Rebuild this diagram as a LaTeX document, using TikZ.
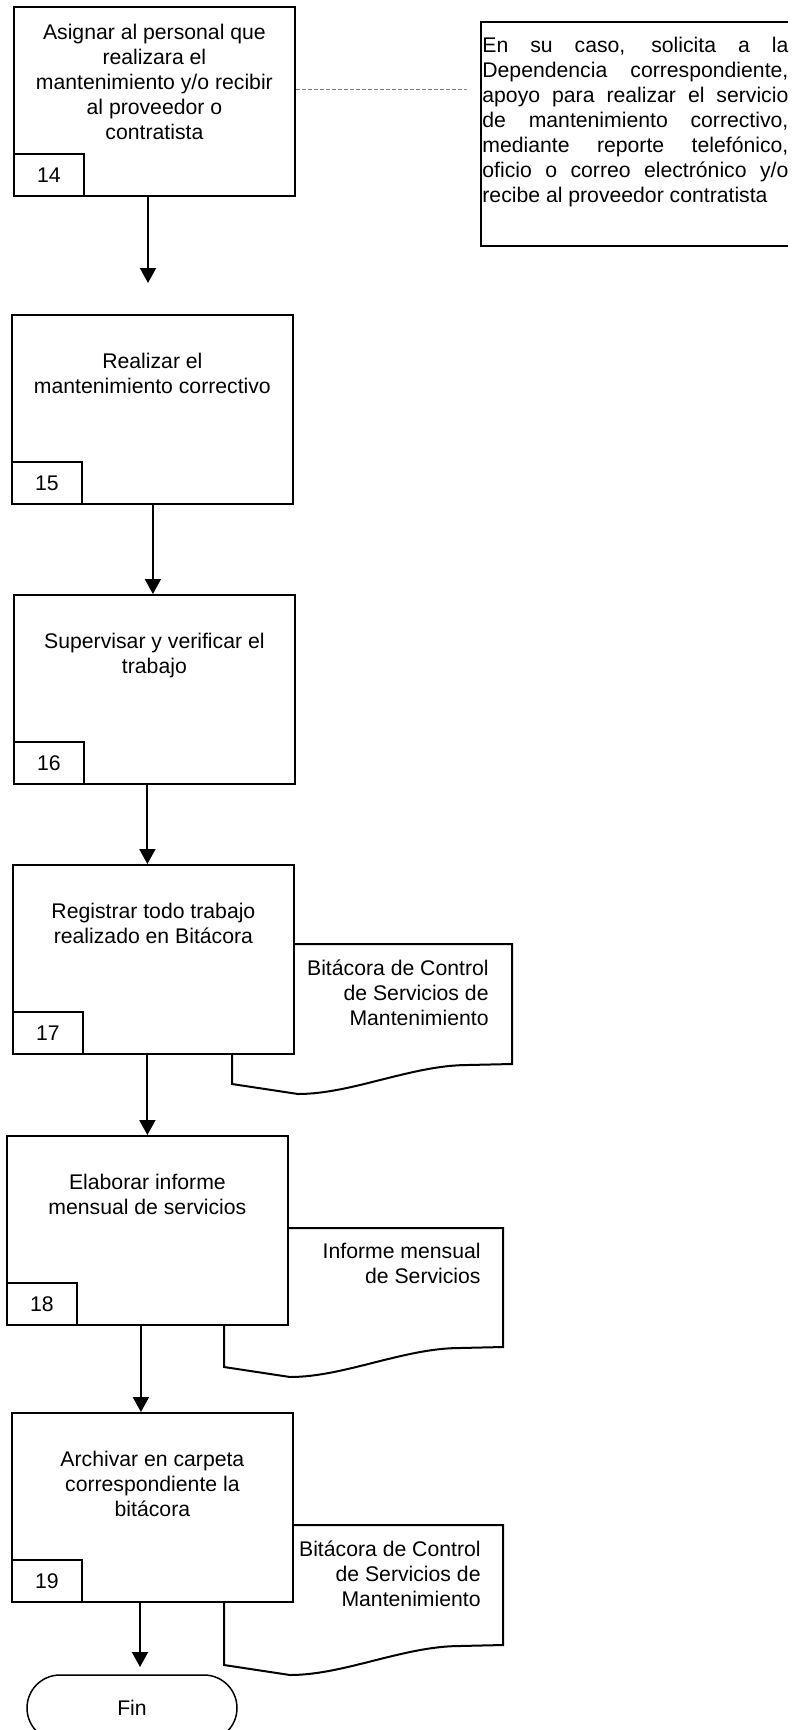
\documentclass[tikz,border=0pt]{standalone}
\usepackage{fontspec}
\setmainfont{Liberation Sans}
\usetikzlibrary{arrows.meta}
\newcommand\docpath[4]{(#1,#3) -- (#2,#3) -- (#2,#4) -- (#1+236,#4+1) .. controls (#1+180,#4+1) and (#1+120,#4+30) .. (#1+66,#4+30) -- (#1,#4+20) -- cycle}
\begin{document}
\begin{tikzpicture}[x=0.5pt,y=-0.5pt,
  every node/.style={font=\fontsize{10.6pt}{12.5pt}\selectfont},
  stepbox/.style={draw,line width=0.9pt,fill=white,minimum width=140.5pt,minimum height=94.5pt,inner sep=0pt,anchor=north west},
  numbox/.style={draw,line width=0.9pt,fill=white,minimum width=35pt,minimum height=21pt,inner sep=0pt,anchor=south west},
  steptext/.style={align=center,inner sep=0pt,anchor=north},
  doctext/.style={align=right,inner sep=0pt,anchor=north east},
  docline/.style={line width=1pt,fill=white},
  arr/.style={line width=1pt,-{Triangle[length=7.5pt,width=8pt]}},
  dashline/.style={gray,line width=0.5pt,dash pattern=on 2pt off 1pt},
  endbox/.style={draw,line width=0.75pt,rounded corners=16.5pt,minimum width=105pt,minimum height=33pt,inner sep=0pt},
]
\useasboundingbox (0,0) rectangle (797,1730);

% documents (behind the steps)
\draw[docline] \docpath{232}{512}{944}{1064};
\draw[docline] \docpath{224}{503}{1228}{1347};
\draw[docline] \docpath{224}{503}{1525}{1645};
\node[doctext] (d17) at (489,959) {Bitácora de Control\\de Servicios de\\Mantenimiento};
\node[doctext] (d18) at (481,1243) {Informe mensual\\de Servicios};
\node[doctext] (d19) at (481,1540) {Bitácora de Control\\de Servicios de\\Mantenimiento};

% steps
\node[stepbox] (s14) at (13,6) {};
\node[stepbox] (s15) at (11,314) {};
\node[stepbox] (s16) at (13,594) {};
\node[stepbox] (s17) at (12,864) {};
\node[stepbox] (s18) at (6,1135) {};
\node[stepbox] (s19) at (11,1412) {};

\node[steptext] (t14) at ([yshift=-9pt]s14.north) {Asignar al personal que\\realizara el\\mantenimiento y/o recibir\\al proveedor o\\contratista};
\node[steptext] (t15) at ([yshift=-19.5pt]s15.north) {Realizar el\\mantenimiento correctivo};
\node[steptext] (t16) at ([yshift=-19.5pt]s16.north) {Supervisar y verificar el\\trabajo};
\node[steptext] (t17) at ([yshift=-19.5pt]s17.north) {Registrar todo trabajo\\realizado en Bitácora};
\node[steptext] (t18) at ([yshift=-19.5pt]s18.north) {Elaborar informe\\mensual de servicios};
\node[steptext] (t19) at ([yshift=-19.5pt]s19.north) {Archivar en carpeta\\correspondiente la\\bitácora};

\node[numbox] (n14) at (s14.south west) {14};
\node[numbox] (n15) at (s15.south west) {15};
\node[numbox] (n16) at (s16.south west) {16};
\node[numbox] (n17) at (s17.south west) {17};
\node[numbox] (n18) at (s18.south west) {18};
\node[numbox] (n19) at (s19.south west) {19};

% note
\coordinate (nt) at (788,22);
\coordinate (nb) at (788,246);
\draw[line width=1pt] (nt) -- (481,22) -- (481,246) -- (nb);
\node[anchor=north west,inner sep=0pt,align=left] (note) at (482,37)
 {\makebox[153pt][s]{En su caso, solicita a la}\\
  \makebox[153pt][s]{Dependencia correspondiente,}\\
  \makebox[153pt][s]{apoyo para realizar el servicio}\\
  \makebox[153pt][s]{de mantenimiento correctivo,}\\
  \makebox[153pt][s]{mediante reporte telefónico,}\\
  \makebox[153pt][s]{oficio o correo electrónico y/o}\\
  recibe al proveedor contratista};
\coordinate (dl) at (467,89);
\draw[dashline] (s14.east |- dl) -- (dl);

% end
\node[endbox] (fin) at (132,1708) {Fin};

% connectors
\coordinate (a14) at (148,283);
\draw[arr] (s14.south -| a14) -- (a14);
\draw[arr] ([xshift=0.25pt]s15.south) -- ([xshift=0.25pt]s15.south |- s16.north);
\draw[arr] ([xshift=-3.5pt]s16.south) -- ([xshift=-3.5pt]s16.south |- s17.north);
\draw[arr] ([xshift=-3pt]s17.south) -- ([xshift=-3pt]s17.south |- s18.north);
\draw[arr] ([xshift=-3.25pt]s18.south) -- ([xshift=-3.25pt]s18.south |- s19.north);
\coordinate (a19) at (140,1667);
\draw[arr] (s19.south -| a19) -- (a19);
\end{tikzpicture}
\end{document}
